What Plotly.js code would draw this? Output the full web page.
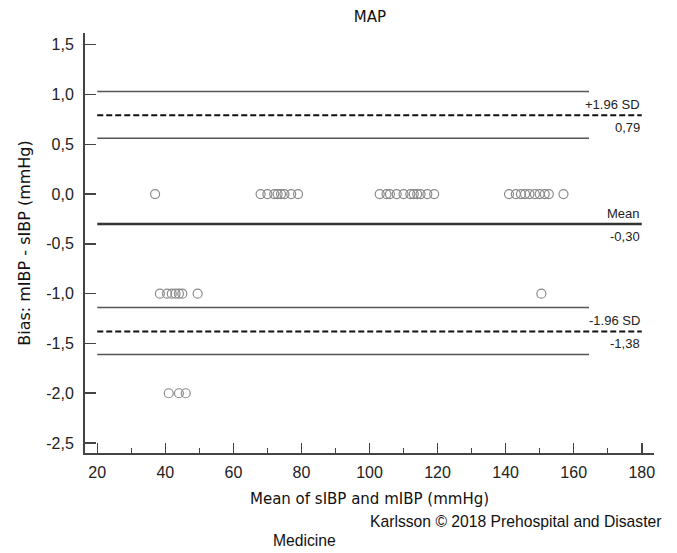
<!DOCTYPE html>
<html>
<head>
<meta charset="utf-8">
<script src="https://cdn.plot.ly/plotly-3.0.1.min.js"></script>
<style>html,body{margin:0;padding:0;background:#fff;}#chart{width:677px;height:553px;}</style>
</head>
<body>
<div id="chart"></div>
<script>
// Data: observations (mean of sIBP and mIBP, bias)
const meanX = [37, 68, 70, 72, 73, 74, 75, 77, 79,
               103, 105, 106, 108, 110, 112, 113, 114, 115, 117, 119,
               141, 143, 144.5, 145.7, 147, 148.6, 150, 151.5, 152.7, 157,
               38.4, 40.5, 41.9, 43, 44, 45, 49.5, 150.5,
               41, 44, 46];
const biasY = [0, 0, 0, 0, 0, 0, 0, 0, 0,
               0, 0, 0, 0, 0, 0, 0, 0, 0, 0, 0,
               0, 0, 0, 0, 0, 0, 0, 0, 0, 0,
               -1, -1, -1, -1, -1, -1, -1, -1,
               -2, -2, -2];

// Bland-Altman statistics
const meanBias = -0.30;
const upperLoA = 0.79;
const lowerLoA = -1.38;
const upperLoACI = [0.56, 1.03];
const lowerLoACI = [-1.61, -1.14];
const lineSpan = [20, 180];
const ciSpan = [20, 164.5];

// Axis ticks
const xTickVals = [20, 40, 60, 80, 100, 120, 140, 160, 180];
const xTickText = ["20", "40", "60", "80", "100", "120", "140", "160", "180"];
const yTickVals = [1.5, 1.0, 0.5, 0.0, -0.5, -1.0, -1.5, -2.0, -2.5];
const yTickText = ["1,5", "1,0", "0,5", "0,0", "-0,5", "-1,0", "-1,5", "-2,0", "-2,5"];

// Labels
const lineLabels = [
  {y: upperLoA, above: "+1.96 SD", below: "0,79"},
  {y: meanBias, above: "Mean", below: "-0,30"},
  {y: lowerLoA, above: "-1.96 SD", below: "-1,38"}
];

const SANS = 'Arial, "Liberation Sans", sans-serif';
const VERD = 'Verdana, "DejaVu Sans", sans-serif';

const traces = [];
// CI lines (solid thin)
[upperLoACI[0], upperLoACI[1], lowerLoACI[0], lowerLoACI[1]].forEach(v => {
  traces.push({x: ciSpan, y: [v, v], mode: 'lines', type: 'scatter',
    line: {color: '#555', width: 1.5}, hoverinfo: 'skip', showlegend: false});
});
// Limits of agreement (dashed)
[upperLoA, lowerLoA].forEach(v => {
  traces.push({x: lineSpan, y: [v, v], mode: 'lines', type: 'scatter',
    line: {color: '#111', width: 2, dash: '6px,3px'}, hoverinfo: 'skip', showlegend: false});
});
// Mean line
traces.push({x: lineSpan, y: [meanBias, meanBias], mode: 'lines', type: 'scatter',
  line: {color: '#333', width: 2.5}, hoverinfo: 'skip', showlegend: false});
// Points
traces.push({x: meanX, y: biasY, mode: 'markers', type: 'scatter',
  marker: {symbol: 'circle-open', size: 9, color: '#8a8a8a', line: {width: 1.2, color: '#8a8a8a'}},
  showlegend: false});

const annotations = [];
lineLabels.forEach(l => {
  annotations.push({x: lineSpan[1], y: l.y, xref: 'x', yref: 'y', text: l.above, showarrow: false,
    xanchor: 'right', yanchor: 'bottom', yshift: 1, font: {family: SANS, size: 13, color: '#222'}});
  annotations.push({x: lineSpan[1], y: l.y, xref: 'x', yref: 'y', text: l.below, showarrow: false,
    xanchor: 'right', yanchor: 'top', yshift: -3, font: {family: SANS, size: 13, color: '#222'}});
});
annotations.push({x: 1.0158, y: -0.162, xref: 'paper', yref: 'paper', text: 'Karlsson © 2018 Prehospital and Disaster',
  showarrow: false, xanchor: 'right', yanchor: 'middle', font: {family: SANS, size: 15.7, color: '#111'}});
annotations.push({x: 0.3858, y: -0.2095, xref: 'paper', yref: 'paper', text: 'Medicine',
  showarrow: false, xanchor: 'center', yanchor: 'middle', font: {family: SANS, size: 15.7, color: '#111'}});

const layout = {
  width: 677, height: 553,
  margin: {l: 85, r: 23, t: 33, b: 100, pad: 0},
  paper_bgcolor: '#fff', plot_bgcolor: '#fff',
  title: {text: 'MAP', x: 0.5465, xanchor: 'center', y: 0.969, yanchor: 'middle',
    font: {family: VERD, size: 15, color: '#111'}},
  xaxis: {
    range: [16.4, 183.6], showgrid: false, zeroline: false,
    showline: true, linecolor: '#444', linewidth: 2,
    ticks: 'inside', ticklen: 10, tickwidth: 1.5, tickcolor: '#444',
    tickmode: 'array', tickvals: xTickVals, ticktext: xTickText,
    minor: {dtick: 10, tick0: 0, ticks: 'inside', ticklen: 5, tickwidth: 1.2, tickcolor: '#444', showgrid: false},
    tickfont: {family: SANS, size: 16, color: '#222'},
    ticklabelstandoff: 4,
    title: {text: 'Mean of sIBP and mIBP (mmHg)', standoff: 13, font: {family: VERD, size: 15, color: '#111'}}
  },
  yaxis: {
    range: [-2.60, 1.617], showgrid: false, zeroline: false,
    showline: true, linecolor: '#444', linewidth: 2,
    ticks: 'inside', ticklen: 11, tickwidth: 1.5, tickcolor: '#444',
    tickmode: 'array', tickvals: yTickVals, ticktext: yTickText,
    tickfont: {family: SANS, size: 16, color: '#222'},
    ticklabelstandoff: 6,
    title: {text: 'Bias: mIBP - sIBP (mmHg)', standoff: 12, font: {family: VERD, size: 16, color: '#111'}}
  },
  annotations: annotations,
  showlegend: false
};

Plotly.newPlot('chart', traces, layout, {displayModeBar: false, staticPlot: true});
</script>
</body>
</html>
